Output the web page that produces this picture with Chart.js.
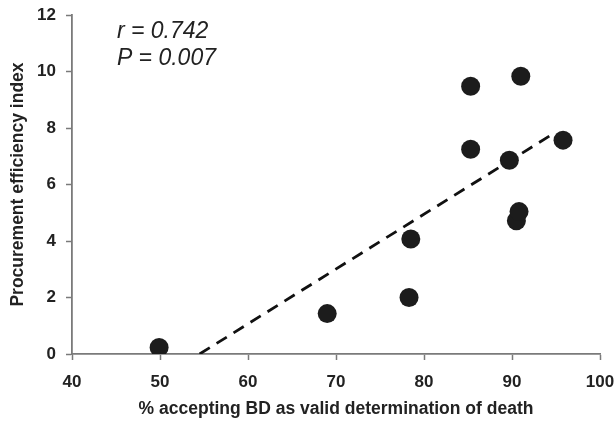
<!DOCTYPE html>
<html>
<head>
<meta charset="utf-8">
<script src="https://cdn.jsdelivr.net/npm/chart.js@4.4.1/dist/chart.umd.min.js"></script>
<style>
  html, body { margin: 0; padding: 0; background: #fff; }
  #wrap { position: relative; width: 615px; height: 422px; }
</style>
</head>
<body>
<div id="wrap"><canvas id="scatterChart"></canvas></div>
<script>
// values
const acceptPct = [49.9, 69.0, 78.3, 78.5, 85.3, 85.3, 89.7, 90.5, 90.8, 91.0, 95.8];
const efficiency = [0.23, 1.43, 2.0, 4.07, 9.48, 7.25, 6.86, 4.72, 5.04, 9.83, 7.57];
const trendX = [54.5, 94.8];
const trendY = [0, 7.82];
const xTicks = [40, 50, 60, 70, 80, 90, 100];
const yTicks = [0, 2, 4, 6, 8, 10, 12];
const statLines = ["r = 0.742", "P = 0.007"];
const statAnchor = { x: 45.1, y: [11.2, 10.22] };

const ink = "#222222";
const axisGray = "#7a7a7a";
const fontFam = "'Liberation Sans', Arial, sans-serif";

// r / P text, anchored in data units
const statsText = {
  id: "statsText",
  afterDatasetsDraw(chart) {
    const { ctx, scales } = chart;
    ctx.save();
    ctx.fillStyle = ink;
    ctx.font = "italic 23px " + fontFam;
    ctx.textAlign = "left";
    ctx.textBaseline = "alphabetic";
    statLines.forEach((t, i) => {
      ctx.fillText(t, scales.x.getPixelForValue(statAnchor.x), scales.y.getPixelForValue(statAnchor.y[i]));
    });
    ctx.restore();
  },
};

window.addEventListener("load", () => {
  const ctx = document.getElementById("scatterChart").getContext("2d");
  new Chart(ctx, {
    type: "scatter",
    data: {
      datasets: [
        {
          label: "countries",
          data: acceptPct.map((x, i) => ({ x: x, y: efficiency[i] })),
          backgroundColor: "#1c1c1c",
          borderWidth: 0,
          pointRadius: 9.5,
          pointHoverRadius: 9.5,
        },
        {
          label: "fit",
          type: "line",
          data: trendX.map((x, i) => ({ x: x, y: trendY[i] })),
          borderColor: "#111111",
          borderWidth: 2.8,
          borderDash: [12, 8],
          pointRadius: 0,
          fill: false,
        },
      ],
    },
    options: {
      responsive: true,
      maintainAspectRatio: false,
      animation: false,
      layout: { padding: { top: 15, right: 15, bottom: 0, left: 0 } },
      plugins: {
        legend: { display: false },
        tooltip: { enabled: false },
      },
      scales: {
        x: {
          type: "linear",
          min: 40,
          max: 100,
          afterBuildTicks: (s) => { s.ticks = xTicks.map((v) => ({ value: v })); },
          afterFit: (s) => { s.height = 68; s.paddingLeft = 0; s.paddingRight = 0; },
          grid: { drawOnChartArea: false, drawTicks: true, tickLength: 6, tickColor: axisGray, tickWidth: 1.5 },
          border: { color: axisGray, width: 1.8 },
          ticks: {
            color: ink,
            padding: 12,
            font: { family: fontFam, size: 17, weight: "bold" },
          },
          title: {
            display: true,
            text: "% accepting BD as valid determination of death",
            color: ink,
            padding: { top: 0, bottom: 2 },
            font: { family: fontFam, size: 17.5, weight: "bold" },
          },
        },
        y: {
          type: "linear",
          min: 0,
          max: 12,
          afterBuildTicks: (s) => { s.ticks = yTicks.map((v) => ({ value: v })); },
          afterFit: (s) => { s.width = 72; s.paddingTop = 0; s.paddingBottom = 0; },
          grid: { drawOnChartArea: false, drawTicks: true, tickLength: 6, tickColor: axisGray, tickWidth: 1.5 },
          border: { color: axisGray, width: 1.8 },
          ticks: {
            color: ink,
            padding: 10,
            font: { family: fontFam, size: 17, weight: "bold" },
          },
          title: {
            display: true,
            text: "Procurement efficiency index",
            color: ink,
            padding: { top: 8, bottom: 0 },
            font: { family: fontFam, size: 17.5, weight: "bold" },
          },
        },
      },
    },
    plugins: [statsText],
  });
});
</script>
</body>
</html>
